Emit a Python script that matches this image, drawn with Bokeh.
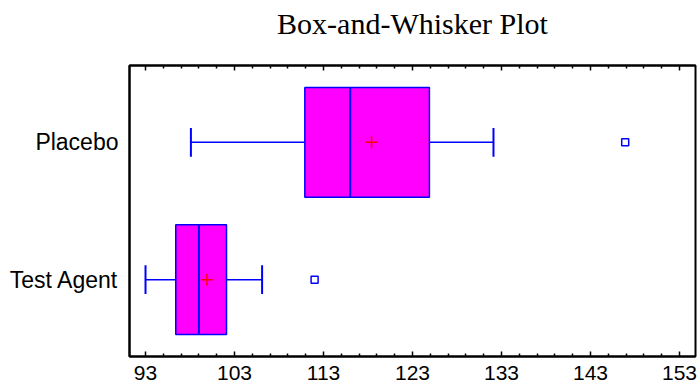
from bokeh.plotting import figure
from bokeh.models import FixedTicker, LinearAxis, Range1d, ColumnDataSource
from bokeh.embed import file_html
from bokeh.resources import INLINE

# ---- data ----
categories = ["Test Agent", "Placebo"]
lower_whisker = [93.0, 98.1]
q1 = [96.4, 110.9]
median = [99.0, 116.0]
mean = [99.9, 118.4]
q3 = [102.1, 124.9]
upper_whisker = [106.1, 132.1]
outlier = [112.0, 146.9]
x_major_ticks = [93, 103, 113, 123, 133, 143, 153]
x_minor_ticks = [95, 97, 99, 101, 105, 107, 109, 111, 115, 117, 119, 121,
                 125, 127, 129, 131, 135, 137, 139, 141, 145, 147, 149, 151]

pos = [i + 1 for i in range(len(categories))]
box_h = 0.8
cap_h = 0.105

src = ColumnDataSource(dict(
    y=pos,
    lo=lower_whisker, q1=q1, med=median, mean=mean, q3=q3, hi=upper_whisker,
    out=outlier,
    ytop=[v + box_h / 2 for v in pos], ybot=[v - box_h / 2 for v in pos],
    ctop=[v + cap_h for v in pos], cbot=[v - cap_h for v in pos],
))

p = figure(width=698, height=389,
           x_range=Range1d(91.2, 154.8), y_range=Range1d(0.44, 2.56),
           output_backend="svg", toolbar_location=None,
           min_border_left=129, min_border_right=3,
           min_border_top=65, min_border_bottom=33)

BLUE = "#0000FF"

# whiskers
p.segment(x0="lo", y0="y", x1="q1", y1="y", source=src, line_color=BLUE, line_width=1.5)
p.segment(x0="q3", y0="y", x1="hi", y1="y", source=src, line_color=BLUE, line_width=1.5)
# caps
p.segment(x0="lo", y0="cbot", x1="lo", y1="ctop", source=src, line_color=BLUE, line_width=2)
p.segment(x0="hi", y0="cbot", x1="hi", y1="ctop", source=src, line_color=BLUE, line_width=2)
# boxes
p.hbar(y="y", left="q1", right="q3", height=box_h, source=src,
       fill_color="#FF00FF", line_color=BLUE, line_width=1.5)
# median
p.segment(x0="med", y0="ybot", x1="med", y1="ytop", source=src, line_color=BLUE, line_width=2)
# mean
p.scatter(x="mean", y="y", source=src, marker="cross", size=12,
          line_color="#FF0000", line_width=1.5)
# outliers
p.scatter(x="out", y="y", source=src, marker="square", size=7,
          fill_color="white", line_color=BLUE, line_width=1.5)

# grid / outline
p.xgrid.visible = False
p.ygrid.visible = False
p.outline_line_color = "black"
p.outline_line_width = 2
p.outline_line_alpha = 1.0
p.background_fill_color = "white"
p.border_fill_color = "white"

# x axis (bottom)
xt = FixedTicker(ticks=x_major_ticks, minor_ticks=x_minor_ticks)
xa = p.xaxis[0]
xa.ticker = xt
xa.axis_line_color = "black"
xa.axis_line_width = 2
xa.major_tick_in = 5
xa.major_tick_out = 0
xa.minor_tick_in = 3
xa.minor_tick_out = 0
xa.major_tick_line_color = "black"
xa.minor_tick_line_color = "black"
xa.major_tick_line_width = 1.5
xa.minor_tick_line_width = 1.5
xa.major_label_text_font = "Liberation Sans"
xa.major_label_text_font_size = "21px"
xa.major_label_text_color = "black"
xa.major_label_standoff = 9

# top axis (ticks only)
ta = LinearAxis(ticker=FixedTicker(ticks=x_major_ticks, minor_ticks=x_minor_ticks),
                major_label_overrides={t: "" for t in x_major_ticks},
                major_label_standoff=0,
                major_tick_in=5, major_tick_out=0, minor_tick_in=3, minor_tick_out=0,
                axis_line_color="black", axis_line_width=2,
                major_tick_line_width=1.5, minor_tick_line_width=1.5)
p.add_layout(ta, "above")

# invisible spacer between frame and title
spacer = LinearAxis(ticker=FixedTicker(ticks=x_major_ticks, minor_ticks=[]),
                    major_label_overrides={t: "" for t in x_major_ticks},
                    major_label_standoff=0,
                    major_tick_in=0, major_tick_out=26, minor_tick_in=0, minor_tick_out=0,
                    axis_line_color=None, major_tick_line_color=None,
                    minor_tick_line_color=None)
p.add_layout(spacer, "above")

# y axis (category labels)
ya = p.yaxis[0]
ya.ticker = FixedTicker(ticks=pos, minor_ticks=[])
ya.major_label_overrides = {v: c for v, c in zip(pos, categories)}
ya.major_tick_in = 0
ya.major_tick_out = 0
ya.minor_tick_in = 0
ya.minor_tick_out = 0
ya.axis_line_color = "black"
ya.axis_line_width = 2
ya.major_label_text_font = "Liberation Sans"
ya.major_label_text_font_size = "23px"
ya.major_label_text_color = "black"
ya.major_label_standoff = 11

# title
p.title.text = "Box-and-Whisker Plot"
p.title.text_font = "Liberation Serif"
p.title.text_font_size = "30px"
p.title.text_font_style = "normal"
p.title.text_color = "black"
p.title.align = "center"
p.title.standoff = 0

open("out.html", "w").write(file_html(p, INLINE))
